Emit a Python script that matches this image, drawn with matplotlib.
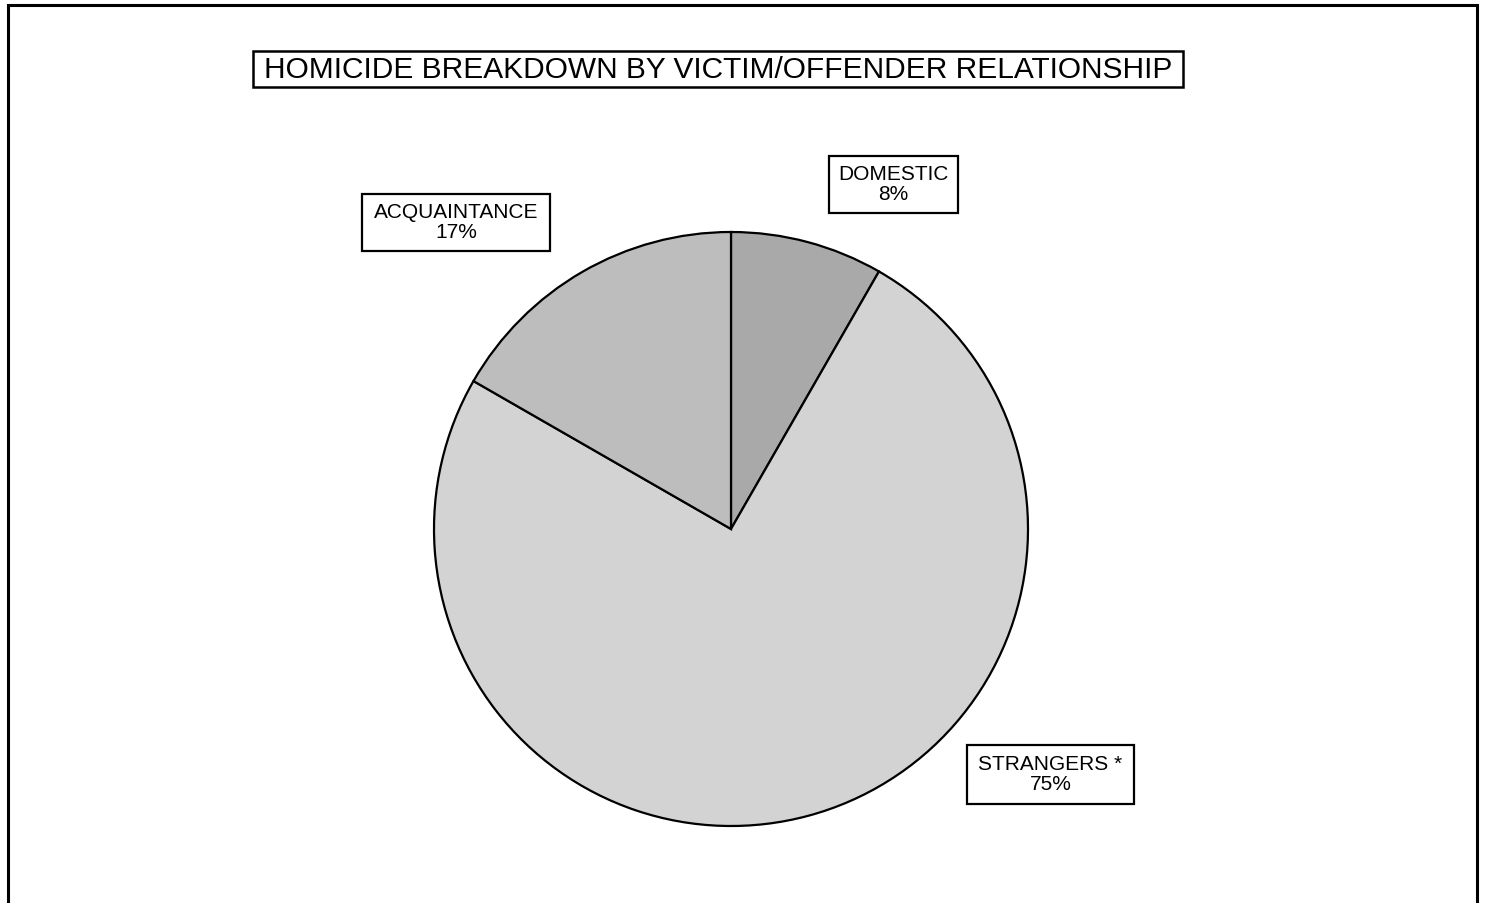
import matplotlib.pyplot as plt
from matplotlib.patches import Rectangle

# Data
categories = ['DOMESTIC', 'STRANGERS *', 'ACQUAINTANCE']
shares = [8.3, 75.0, 16.7]
pct_labels = ['8%', '75%', '17%']
slice_colours = ['#a9a9a9', '#d3d3d3', '#bdbdbd']

title_text = 'HOMICIDE BREAKDOWN BY VICTIM/OFFENDER RELATIONSHIP'

plt.rcParams['font.family'] = ['Liberation Sans', 'DejaVu Sans']

W, H = 1491, 904
fig = plt.figure(figsize=(W / 100, H / 100), dpi=100)
ax = fig.add_axes([0, 0, 1, 1])


def box(x0, x1, y0, y1, lw=1.6):
    # box given in pixel coords measured from top of page
    ax.add_patch(Rectangle((x0, H - y1), x1 - x0, y1 - y0, fc='white', ec='black', lw=lw, zorder=3))


# pie, placed in pixel coordinates (y measured from bottom)
cx, cy, r = 731, H - 530, 297
wedges, _ = ax.pie(shares, colors=slice_colours, startangle=90, counterclock=False,
                   center=(cx, cy), radius=r, frame=True,
                   wedgeprops=dict(edgecolor='black', linewidth=1.6))
ax.set_xlim(0, W)
ax.set_ylim(0, H)
ax.set_aspect('equal')
ax.axis('off')

# outer frame (bottom edge runs off the page)
ax.add_patch(Rectangle((8, -20), 1469, H - 6 + 20, fill=False, lw=2.2, ec='black'))

# title in a box
box(253, 1183, 52, 88, lw=1.8)
ax.text(718, H - 70, title_text, ha='center', va='center', fontsize=21.5, zorder=4)

# slice labels in boxes
label_boxes = {
    'DOMESTIC': (829, 958, 157, 214),
    'STRANGERS *': (967, 1134, 746, 805),
    'ACQUAINTANCE': (362, 550, 195, 252),
}
for cat, pct in zip(categories, pct_labels):
    x0, x1, y0, y1 = label_boxes[cat]
    box(x0, x1, y0, y1)
    ax.text((x0 + x1) / 2, H - (y0 + y1) / 2 + 1, cat + '\n' + pct, ha='center', va='center',
            fontsize=15, linespacing=1.05, zorder=4)

fig.savefig('out.png', dpi=100)
